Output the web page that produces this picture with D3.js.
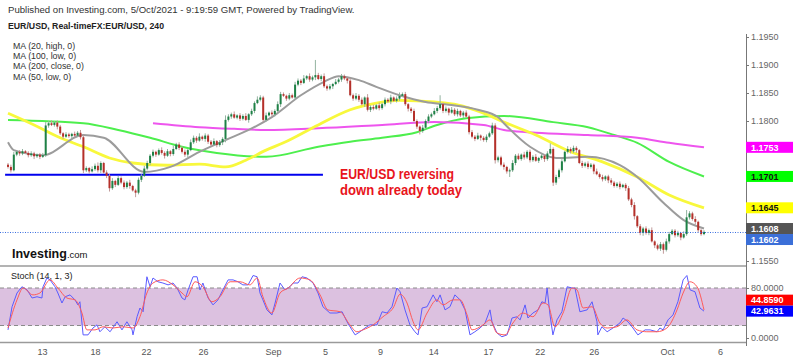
<!DOCTYPE html>
<html><head><meta charset="utf-8">
<script src="https://cdn.jsdelivr.net/npm/d3@7"></script>
<style>
html,body{margin:0;padding:0;background:#fff;}
svg{display:block;font-family:"Liberation Sans",Arial,sans-serif;}
</style></head><body>
<svg id="c" width="800" height="357"></svg>
<script>
// ---------- DATA ----------
const firstOpen = 1.1722;
const closes = [
1.1718,1.1712,1.1740,1.1745,1.1742,1.1746,1.1743,1.1739,1.1742,1.1737,
1.1740,1.1736,1.1739,1.1792,1.1796,1.1793,1.1797,1.1790,1.1778,1.1772,
1.1776,1.1773,1.1777,1.1774,1.1779,1.1771,1.1712,1.1716,1.1710,1.1714,
1.1720,1.1712,1.1725,1.1708,1.1702,1.1680,1.1693,1.1686,1.1698,1.1690,
1.1682,1.1690,1.1684,1.1676,1.1672,1.1695,1.1702,1.1715,1.1725,1.1738,
1.1745,1.1740,1.1748,1.1743,1.1738,1.1746,1.1741,1.1750,1.1758,1.1752,
1.1745,1.1740,1.1748,1.1762,1.1770,1.1765,1.1772,1.1768,1.1774,1.1763,
1.1758,1.1764,1.1757,1.1762,1.1768,1.1802,1.1808,1.1812,1.1806,1.1810,
1.1804,1.1809,1.1802,1.1812,1.1818,1.1832,1.1838,1.1842,1.1802,1.1810,
1.1815,1.1812,1.1818,1.1830,1.1848,1.1845,1.1840,1.1846,1.1842,1.1865,
1.1872,1.1868,1.1876,1.1880,1.1874,1.1878,1.1882,1.1875,1.1880,1.1862,
1.1858,1.1862,1.1866,1.1870,1.1874,1.1880,1.1876,1.1872,1.1846,1.1840,
1.1845,1.1838,1.1830,1.1842,1.1820,1.1825,1.1822,1.1828,1.1823,1.1830,
1.1838,1.1835,1.1842,1.1836,1.1840,1.1845,1.1848,1.1830,1.1822,1.1818,
1.1800,1.1790,1.1782,1.1788,1.1800,1.1808,1.1812,1.1818,1.1823,1.1830,
1.1818,1.1822,1.1815,1.1820,1.1812,1.1818,1.1810,1.1815,1.1808,1.1780,
1.1772,1.1768,1.1774,1.1770,1.1766,1.1772,1.1778,1.1792,1.1730,1.1735,
1.1722,1.1718,1.1710,1.1712,1.1725,1.1738,1.1732,1.1740,1.1735,1.1745,
1.1730,1.1736,1.1729,1.1734,1.1738,1.1732,1.1742,1.1750,1.1690,1.1700,
1.1712,1.1728,1.1745,1.1750,1.1746,1.1752,1.1748,1.1725,1.1720,1.1724,
1.1718,1.1722,1.1710,1.1705,1.1700,1.1696,1.1701,1.1694,1.1690,1.1684,
1.1688,1.1682,1.1686,1.1680,1.1660,1.1650,1.1630,1.1612,1.1600,1.1608,
1.1600,1.1605,1.1585,1.1578,1.1572,1.1580,1.1570,1.1585,1.1598,1.1604,
1.1596,1.1600,1.1592,1.1598,1.1628,1.1635,1.1625,1.1620,1.1605,1.1598,
1.1602];
// wick lengths in pips beyond the body
const upWick = [
3,4,5,2,3,4,2,3,4,3, 2,3,4,6,4,5,3,4,3,2, 4,3,2,4,3,5,4,3,2,5, 4,6,3,2,4,3,5,2,4,3,
4,3,5,2,3,4,3,5,4,3, 4,2,3,5,3,4,2,6,3,4, 3,4,2,5,4,3,6,2,4,3, 3,5,2,4,3,8,4,3,5,2,
4,3,5,2,4,3,6,4,3,5, 2,4,3,5,4,3,2,4,3,5, 4,3,6,2,5,3,27,4,3,5, 3,4,2,5,3,4,3,2,4,3,
5,3,4,2,6,3,4,2,5,3, 4,3,5,2,4,6,3,4,2,3, 4,3,2,5,3,4,3,5,4,16, 3,4,2,5,3,4,2,3,4,3,
4,3,5,2,3,4,3,5,4,3, 3,4,2,3,5,3,4,2,5,3, 4,3,5,2,4,3,4,10,3,4, 3,4,2,5,3,4,3,2,4,3,
4,3,2,5,3,4,2,3,4,3, 3,4,2,3,4,3,5,2,4,3, 4,3,5,2,3,4,3,5,4,3, 3,4,2,5,13,4,3,5,2,3, 3];
const dnWick = [
3,4,2,3,4,3,2,4,3,5, 3,4,2,3,4,2,3,5,3,4, 2,3,4,3,2,4,5,3,4,2, 3,4,5,2,4,6,3,4,2,3,
4,3,5,2,8,3,4,2,3,4, 3,4,2,3,5,2,4,3,2,4, 3,4,5,2,3,4,2,3,5,4, 3,2,4,3,5,6,3,4,2,3,
4,3,2,5,3,4,2,3,4,3, 2,3,4,3,5,2,4,3,2,4, 3,4,2,3,4,3,5,2,4,3, 4,3,5,2,3,4,3,5,2,4,
3,4,2,5,3,4,3,2,4,3, 4,3,5,2,3,4,2,3,5,4, 3,4,6,3,2,4,3,2,4,3, 4,3,5,2,3,4,3,5,2,4,
3,4,2,5,3,4,2,3,6,4, 3,5,4,10,3,4,2,3,4,3, 4,3,2,4,3,5,3,2,6,4, 3,4,2,3,4,3,5,2,4,3,
4,3,5,2,3,4,3,5,4,3, 3,4,2,5,3,4,6,3,4,5, 3,4,2,5,3,4,7,3,4,2, 4,3,5,2,3,4,3,5,4,3, 2];

// moving averages read at candle indices
const ma20At = [0,2,12,26,33,47,56,66,75,83,91,101,109,114,121,127,135,144,152,162,169,171,180,189,200,211,217,226,233,240];
const ma20   = [1.1762,1.1748,1.1739,1.1775,1.1770,1.1709,1.1718,1.1745,1.1766,1.1784,1.1807,1.1846,1.1870,1.1880,1.1873,1.1861,1.1846,1.1834,1.1829,1.1820,1.1807,1.1796,1.1754,1.1734,1.1736,1.1721,1.1700,1.1654,1.1623,1.1608];
const ma50At = [0,9,18,26,35,43,55,66,75,82,89,95,107,118,127,135,147,155,164,171,182,194,205,217,228,240];
const ma50   = [1.1814,1.1793,1.1770,1.1754,1.1734,1.1725,1.1721,1.1723,1.1718,1.1730,1.1748,1.1761,1.1793,1.1820,1.1832,1.1837,1.1834,1.1829,1.1814,1.1798,1.1775,1.1745,1.1727,1.1700,1.1668,1.1645];
const ma100At = [0,26,38,49,60,72,89,107,118,129,141,148,158,171,188,200,209,217,228,240];
const ma100   = [1.1802,1.1796,1.1784,1.1770,1.1754,1.1743,1.1736,1.1754,1.1763,1.1770,1.1780,1.1793,1.1805,1.1809,1.1798,1.1789,1.1775,1.1761,1.1727,1.1701];
const ma200At = [50,66,78,89,107,129,147,164,171,182,200,217,228,240];
const ma200   = [1.1796,1.1789,1.1786,1.1784,1.1787,1.1793,1.1798,1.1793,1.1784,1.1779,1.1775,1.1770,1.1761,1.1753];

// stochastic (14,1,3) read at candle indices
const stochKAt = [0,1.4,3.1,4.8,6.6,8.3,10,11.7,12.1,13.4,14.5,16.2,17.2,18.6,19.7,21.4,23.1,24.1,24.8,25.9,27.6,29.3,30.7,31.7,33.4,35.2,37.6,39.3,41,42.8,43.1,44.5,45.5,46.6,47.9,49,50,51.7,53.4,55.2,56.9,58.3,60,61,62.1,63.8,65.2,66.2,67.2,69,70.7,72.4,74.1,75.9,77.6,79.3,81,82.8,84.5,85.9,86.9,87.9,89.3,91,92.1,93.8,95.5,97.2,98.3,100,101.4,103.1,105.2,106.9,108.6,111,113.4,115.2,116.9,118.6,119.7,121.4,123.1,124.8,127.2,129,130.7,132.4,134.1,135.2,136.9,138.6,140.3,141.4,142.8,144.5,146.6,147.9,149,150.7,152.4,154.1,155.9,157.6,159.3,161,162.8,164.5,166.2,166.9,168.6,170.3,172.1,173.8,175.5,176.6,178.3,179.3,181,182.8,184.1,185.2,185.9,186.9,187.9,189.3,191,192.8,194.5,195.5,197.2,199.7,201.4,203.1,203.4,204.8,206.6,208.6,211,212.1,213.8,215.5,217.2,219.7,221.4,223.8,224.8,225.9,227.6,229.3,231,232.8,234.1,235.2,236.9,238.6,240];
const stochK   = [13,50,72,82,77,64,66,64,82,96,93,82,72,56,66,69,61,53,58,5,5,16,21,10,18,10,26,13,26,13,5,34,48,42,98,82,96,90,88,85,88,80,64,61,77,98,98,77,88,64,53,61,77,93,93,90,85,85,100,98,72,61,45,37,56,88,77,82,88,88,98,96,88,72,50,40,40,42,26,13,5,10,16,21,21,42,40,50,80,74,45,21,10,5,48,50,69,58,69,45,50,69,61,45,5,10,16,24,45,26,8,2,5,32,34,29,53,32,40,45,58,56,80,37,5,29,42,82,80,80,42,45,58,26,5,18,10,16,24,32,26,16,5,13,13,10,16,13,29,37,58,93,100,77,74,48,42.9631];
const stochDAt = [0,3.1,5.2,8.6,11,14.5,17.2,20.3,23.1,25.5,27.2,30,32.8,36.2,39.7,43.1,45.5,47.9,50,53.4,56.9,60,61.7,64.5,67.2,70.3,73.1,76.6,80,83.4,85.9,87.9,91,93.8,96.6,100.7,104.1,107.6,110.3,114.5,117.9,120.3,122.4,125.9,129.3,132.8,135.2,137.6,139.7,141.4,144.5,147.9,150,153.4,155.9,158.3,160,163.8,166.2,168.6,171.4,174.1,177.6,181,184.5,186.2,188.6,191.4,194.5,196.2,198.3,201.4,204.1,206.6,210,213.4,216.9,220.3,223.8,227.2,230.7,232.8,235.2,237.6,240];
const stochD   = [16,61,80,69,72,93,80,64,61,40,13,13,18,16,18,16,34,72,88,93,85,72,66,90,82,58,66,90,90,85,96,66,40,72,80,96,93,69,45,42,21,10,13,21,34,48,70,56,26,13,40,61,53,61,61,37,13,21,29,8,5,24,40,34,56,53,18,40,80,77,48,50,24,16,18,29,13,10,10,16,45,72,90,82,44.8590];

const priceTicks = [1.155,1.16,1.165,1.17,1.175,1.18,1.185,1.19,1.195];
const stochTicks = [0,80];
const xTickAt = [11.7,30,47.6,67.2,91.4,109.3,128.3,146.6,165.5,183.4,202,227.2,245.5];
const xTickLabels = ["13","18","22","26","Sep","5","9","14","17","22","26","Oct","6"];
const supportLevel = 1.1704, supportFrom = -1, supportTo = 108.6;
const maLegend = ["MA (20, high, 0)","MA (100, low, 0)","MA (200, close, 0)","MA (50, low, 0)"];

// ---------- CHART ----------
const svg = d3.select("#c");
const pip = 0.0001;
const x = d3.scaleLinear().domain([0,240]).range([8,704]);
const y = d3.scaleLinear().domain([1.155,1.195]).range([261,37]);
const ys = d3.scaleLinear().domain([0,100]).range([338,275.5]);
const fmt4 = d3.format(".4f");

// header
svg.append("text").attr("x",8).attr("y",13).attr("font-size",9.6).attr("fill","#333")
  .text("Published on Investing.com, 5/Oct/2021 - 9:19:59 GMT, Powered by TradingView.");
svg.append("text").attr("x",8).attr("y",29).attr("font-size",9.5).attr("font-weight","bold").attr("fill","#222")
  .attr("textLength",156).attr("lengthAdjust","spacingAndGlyphs")
  .text("EUR/USD, Real-timeFX:EUR/USD, 240");
maLegend.forEach((t,i)=>svg.append("text").attr("x",13).attr("y",48.5+i*10.4).attr("font-size",8.8).attr("fill","#333").text(t));

// panel separators
svg.append("line").attr("x1",0).attr("x2",746).attr("y1",266).attr("y2",266).attr("stroke","#9a9a9a").attr("stroke-width",1.5);
svg.append("line").attr("x1",0).attr("x2",746).attr("y1",342.5).attr("y2",342.5).attr("stroke","#9a9a9a").attr("stroke-width",1.5);
svg.append("line").attr("x1",746.5).attr("x2",746.5).attr("y1",34).attr("y2",346).attr("stroke","#777");

// main clip
svg.append("clipPath").attr("id","mc").append("rect").attr("x",0).attr("y",30).attr("width",746).attr("height",235);
const main = svg.append("g").attr("clip-path","url(#mc)");

// support line
main.append("line").attr("x1",x(supportFrom)).attr("x2",x(supportTo)).attr("y1",y(supportLevel)).attr("y2",y(supportLevel))
  .attr("stroke","#0000ee").attr("stroke-width",2.2);

// MAs
const mkLine = (at,vals,color,w)=>{
  main.append("path").datum(at.map((a,i)=>[a,vals[i]]))
   .attr("d",d3.line().x(d=>x(d[0])).y(d=>y(d[1])).curve(d3.curveMonotoneX))
   .attr("fill","none").attr("stroke",color).attr("stroke-width",w).attr("stroke-linejoin","round");
};
mkLine(ma100At,ma100,"#4def4d",2);
mkLine(ma200At,ma200,"#ee55ee",2);
mkLine(ma50At,ma50,"#f8f83c",2.8);
mkLine(ma20At,ma20,"#9c9c9c",2);

// candles
const candles = closes.map((c,i)=>{
  const o = i===0?firstOpen:closes[i-1];
  return {i,o,c,h:Math.max(o,c)+upWick[i]*pip,l:Math.min(o,c)-dnWick[i]*pip};
});
const cg = main.append("g");
cg.selectAll("line.w").data(candles).join("line").attr("class","w")
  .attr("x1",d=>x(d.i)).attr("x2",d=>x(d.i)).attr("y1",d=>y(d.h)).attr("y2",d=>y(d.l))
  .attr("stroke",d=>d.c>=d.o?"#93b3a0":"#c09a9a").attr("stroke-width",1);
cg.selectAll("rect").data(candles).join("rect")
  .attr("x",d=>x(d.i)-1).attr("width",2)
  .attr("y",d=>y(Math.max(d.o,d.c))).attr("height",d=>Math.max(1,Math.abs(y(d.o)-y(d.c))))
  .attr("fill",d=>d.c>=d.o?"#1e8146":"#b5302a");

// last price dotted line
const last = closes[closes.length-1];
svg.append("line").attr("x1",0).attr("x2",746).attr("y1",Math.round(y(last))+0.5).attr("y2",Math.round(y(last))+0.5)
  .attr("stroke","#3b6fe0").attr("stroke-dasharray","1,1.5").attr("stroke-width",1);

// annotation
svg.append("text").attr("x",340).attr("y",179).attr("font-size",14).attr("font-weight","bold").attr("fill","#e8141c")
  .attr("textLength",114).attr("lengthAdjust","spacingAndGlyphs").text("EUR/USD reversing");
svg.append("text").attr("x",340).attr("y",195).attr("font-size",14).attr("font-weight","bold").attr("fill","#e8141c")
  .attr("textLength",122).attr("lengthAdjust","spacingAndGlyphs").text("down already today");

// logo
const lg = svg.append("text").attr("x",12).attr("y",258).attr("fill","#111");
lg.append("tspan").attr("font-size",12.5).attr("font-weight","bold").text("Investing");
lg.append("tspan").attr("font-size",9.5).text(".com");

// value labels on price axis
const labels = [
  {v:ma200[ma200.length-1],bg:"#ff00ff",fg:"#fff"},
  {v:ma100[ma100.length-1],bg:"#00ff00",fg:"#111"},
  {v:ma50[ma50.length-1],bg:"#ffff00",fg:"#111"},
  {v:ma20[ma20.length-1],bg:"#555555",fg:"#fff"},
  {v:last,bg:"#3b6fd8",fg:"#fff"}
];
let prevY = -100;
labels.forEach(l=>{ let cy=y(l.v); if(cy<prevY+11) cy=prevY+11; prevY=cy; l.cy=cy; });

// price axis (tick labels hidden where a value label covers them)
const pa = svg.append("g").attr("transform","translate(746,0)")
  .call(d3.axisRight(y).tickValues(priceTicks).tickFormat(fmt4).tickSize(3).tickPadding(2));
pa.select(".domain").remove();
pa.selectAll(".tick").filter(d=>labels.some(l=>Math.abs(l.cy-y(d))<11)).select("text").remove();
pa.selectAll("text").attr("font-size",9).attr("fill","#666").attr("font-family","Liberation Sans, Arial, sans-serif");
pa.selectAll("line").attr("stroke","#777");

const lbl = svg.append("g");
labels.forEach(l=>{
  lbl.append("rect").attr("x",746).attr("y",l.cy-5.5).attr("width",47).attr("height",11).attr("fill",l.bg);
  lbl.append("text").attr("x",751).attr("y",l.cy+3.3).attr("font-size",9).attr("font-weight","bold").attr("fill",l.fg).text(fmt4(l.v));
});

// stochastic panel
svg.append("rect").attr("x",0).attr("width",746).attr("y",ys(80)).attr("height",ys(20)-ys(80)).attr("fill","#dcc1e0");
[80,20].forEach(v=>svg.append("line").attr("x1",0).attr("x2",746).attr("y1",ys(v)).attr("y2",ys(v))
  .attr("stroke","#8a8a8a").attr("stroke-dasharray","4,3"));
svg.append("text").attr("x",11).attr("y",279).attr("font-size",9).attr("fill","#222").text("Stoch (14, 1, 3)");
const sLine = d3.line().x(d=>x(d[0])).y(d=>ys(d[1]));
svg.append("path").datum(stochKAt.map((a,i)=>[a,stochK[i]])).attr("d",sLine)
  .attr("fill","none").attr("stroke","#5a5aff").attr("stroke-width",1);
svg.append("path").datum(stochDAt.map((a,i)=>[a,stochD[i]])).attr("d",sLine.curve(d3.curveMonotoneX))
  .attr("fill","none").attr("stroke","#ff5a5a").attr("stroke-width",1);

const sa = svg.append("g").attr("transform","translate(746,0)")
  .call(d3.axisRight(ys).tickValues(stochTicks).tickFormat(fmt4).tickSize(3).tickPadding(2));
sa.select(".domain").remove();
sa.selectAll("text").attr("font-size",9).attr("fill","#666").attr("font-family","Liberation Sans, Arial, sans-serif");
sa.selectAll("line").attr("stroke","#777");

const kLast = stochK[stochK.length-1], dLast = stochD[stochD.length-1];
const kY = ys(kLast), dY = Math.min(ys(dLast), kY-11);
[[dY,dLast,"#ff0000"],[kY,kLast,"#0000ff"]].forEach(([cy,v,bg])=>{
  svg.append("rect").attr("x",746).attr("y",cy-5.5).attr("width",47).attr("height",11).attr("fill",bg);
  svg.append("text").attr("x",751).attr("y",cy+3.3).attr("font-size",9).attr("font-weight","bold").attr("fill","#fff").text(d3.format(".4f")(v));
});

// time axis
const xa = svg.append("g").attr("transform","translate(0,343)")
  .call(d3.axisBottom(x).tickValues(xTickAt).tickFormat((d,i)=>xTickLabels[i]).tickSize(0).tickPadding(6));
xa.select(".domain").remove();
xa.selectAll("text").attr("font-size",9).attr("fill","#555").attr("font-family","Liberation Sans, Arial, sans-serif");
</script>
</body></html>
